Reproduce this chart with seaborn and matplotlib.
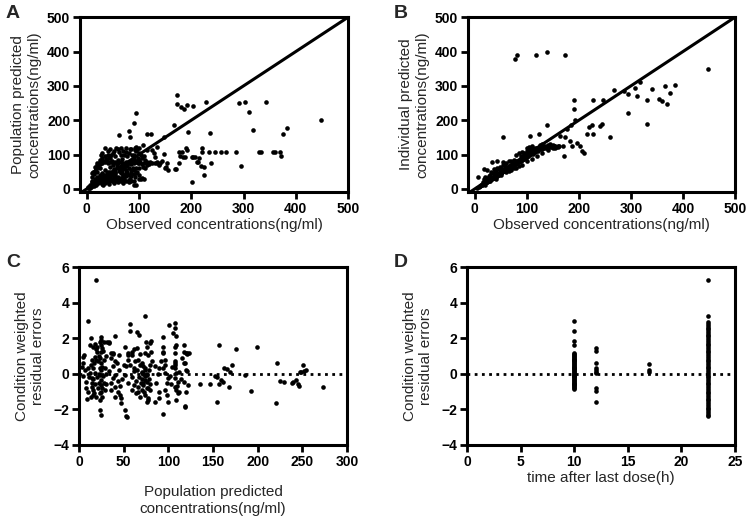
import numpy as np
import pandas as pd
import matplotlib
matplotlib.use("Agg")
import matplotlib.pyplot as plt
import seaborn as sns

# ---- Panel A: observed vs population predicted (ng/ml) ----
obs_a = [172, 172, 180, 186, 192, 203, 228, 292, 303, 311, 342, 319, 383, 375, 449, 235, 193, 295,
         221, 234, 246, 257, 267, 285, 329, 333, 356, 360, 369, 372,
         202, 225, 237, 212, 208, 218, 202, 185, 177, 170, 183, 189, 221, 176, 191, 179, 188, 204, 211, 214, 224,
         167, 95, 90, 61, 80, 83, 116, 122,
         95, 108, 92, 124, 128, 115, 131, 105, 112, 121, 99, 112, 105, 96, 90, 103,
         169, 156, 151, 138, 144, 134, 147, 154, 150, 141, 135, 147, 135,
         20, 25, 30, 35, 40, 45, 50, 55, 60, 65, 70, 75, 80, 85, 90, 95, 100, 110, 115, 125, 130,
         10, 15, 20, 25, 30, 35, 40, 45, 50, 55, 60, 65, 70, 75, 80, 85, 90,
         2, 4, 6, 8, 10, 12, 14, 16, 18, 20, 22, 25, 28, 30, 33, 36, 40, 43, 46, 50, 55, 60, 65, 70, 80, 90,
         20, 15, 25, 30, 35, 40, 30, 25, 45, 50, 35, 40, 55, 60, 65, 70, 75, 80, 85, 90, 95, 100, 60, 45,
         50, 55, 65, 70, 75, 80, 85, 90, 100, 20, 25, 15, 10, 35, 40, 45, 50, 30, 20, 15, 10, 12, 28, 38,
         48, 58, 68, 78, 88, 98, 62, 72, 82, 92, 42, 32, 52, 16, 110, 95,
         3, 5, 7, 9, 11, 13, 15, 17, 19, 21, 24, 26, 29, 31, 34, 37, 39, 42, 45, 48, 52, 55, 58, 62, 66, 68,
         72, 75, 78, 85, 95, 100,
         30, 35, 40, 45, 50, 55, 60, 65, 70, 75, 80, 85, 90, 95, 100, 40, 50, 60, 70, 80, 35, 45, 55, 65, 75,
         85, 95, 100, 58, 68, 78, 88,
         10, 14, 18, 22, 26, 32, 36, 42, 46, 52, 56, 62, 66, 72, 76, 82, 86, 92, 96, 100, 104, 102, 106, 108,
         115, 120, 110]
pred_a = [274, 246, 239, 232, 244, 242, 253, 249, 254, 225, 252, 172, 176, 159, 200, 163, 167, 67,
          108, 108, 108, 108, 108, 108, 108, 108, 108, 108, 108, 96,
          21, 40, 74, 79, 94, 68, 94, 94, 74, 58, 108, 118, 118, 108, 113, 96, 94, 94, 79, 89, 65,
          186, 220, 192, 157, 169, 150, 160, 159,
          123, 128, 113, 113, 104, 113, 94, 89, 84, 79, 75, 60, 31, 50, 10, 29,
          57, 55, 63, 70, 82, 79, 103, 74, 60, 74, 74, 152, 123,
          76, 78, 75, 77, 76, 78, 75, 77, 76, 78, 75, 77, 76, 78, 75, 77, 76, 75, 77, 76, 75,
          24, 22, 25, 23, 24, 22, 25, 23, 24, 22, 25, 23, 24, 22, 25, 23, 24,
          2, 5, 4, 9, 8, 13, 11, 17, 15, 22, 19, 28, 24, 33, 30, 38, 36, 45, 42, 52, 50, 62, 60, 70, 78, 88,
          50, 52, 60, 45, 95, 100, 90, 85, 115, 105, 120, 110, 95, 115, 100, 110, 120, 105, 115, 100, 110, 105, 85, 65,
          40, 35, 45, 40, 55, 60, 45, 55, 60, 35, 40, 30, 20, 55, 50, 90, 70, 105, 70, 65, 45, 50, 100, 85,
          82, 72, 88, 95, 82, 90, 30, 28, 30, 35, 15, 12, 18, 52, 30, 10,
          6, 3, 10, 6, 15, 9, 19, 12, 25, 16, 30, 20, 35, 26, 40, 30, 45, 35, 50, 40, 57, 45, 65, 52, 68, 55,
          62, 66, 70, 72, 80, 85,
          15, 18, 20, 28, 30, 28, 35, 32, 35, 38, 40, 38, 42, 45, 40, 28, 22, 20, 18, 20, 28, 35, 40, 50, 45,
          55, 60, 30, 25, 45, 50, 62,
          35, 42, 58, 65, 72, 82, 88, 92, 100, 110, 118, 108, 120, 98, 108, 115, 98, 118, 115, 118, 100, 78, 72, 65,
          70, 72, 95]

# ---- Panel B: observed vs individual predicted (ng/ml) ----
obs_b = [78, 82, 118, 139, 174, 449,
         369, 365, 376, 385, 340, 331, 353, 360, 318, 308, 311, 295, 295, 331, 286, 268, 228, 246, 259,
         190, 190, 193, 184, 177, 174, 169, 171, 139, 124, 106, 55,
         203, 206, 210, 197, 215, 228, 241, 244, 225, 220, 183, 187, 164, 154, 161,
         5, 8, 10, 12, 14, 15, 17, 18, 20, 22, 22, 24, 25, 27, 28, 30, 30, 32, 33, 35, 36, 38, 40, 40, 42,
         44, 45, 47, 48, 50, 50, 52, 54, 55, 57, 58, 60, 60, 62, 64, 65, 67, 68, 70, 70, 72, 74, 75, 77, 78,
         80, 80, 82, 84, 85, 87, 88, 90, 90, 92, 94, 95, 97, 98, 100, 102, 105, 108, 110, 112, 115, 118, 120,
         122, 125, 128, 130, 133, 135, 138, 140, 143, 145, 148, 150, 155, 160,
         15, 18, 20, 25, 22, 30, 28, 35, 32, 38, 40, 42, 45, 48, 50, 55, 58, 60, 65, 70, 75, 80, 85, 90, 95,
         100, 105, 110, 115, 120, 100, 105, 110, 125, 130, 95, 88,
         20, 30, 40, 50, 60, 70, 80, 90, 100, 110, 120, 130, 140, 150, 160, 65, 75, 85,
         17, 24, 7, 37, 33, 42, 65, 54,
         11, 13, 16, 19, 21, 23, 26, 29, 31, 34, 37, 39, 41, 43, 46, 49, 51, 53, 56, 59, 61, 63, 66, 69, 71,
         73, 76, 79, 81, 83, 86, 89, 91, 93, 96, 99, 101, 104, 106, 109, 111, 113, 116, 119, 121, 124, 127,
         131, 134, 137, 142, 147, 152, 157]
ipred_b = [377, 389, 389, 398, 389, 350,
           246, 301, 280, 304, 290, 258, 261, 256, 311, 295, 270, 275, 222, 188, 285, 288, 259, 259, 152,
           259, 232, 201, 186, 174, 150, 126, 95, 185, 159, 155, 152,
           126, 111, 104, 135, 159, 159, 184, 188, 185, 179, 140, 126, 155, 126, 126,
           4, 6, 9, 10, 12, 14, 15, 17, 18, 19, 22, 21, 24, 24, 27, 26, 30, 29, 33, 31, 35, 34, 37, 40, 38,
           42, 40, 44, 46, 45, 50, 48, 51, 55, 52, 56, 55, 60, 58, 62, 60, 64, 62, 66, 70, 68, 70, 73, 72, 76,
           75, 80, 77, 80, 78, 83, 85, 84, 90, 87, 90, 88, 93, 95, 94, 97, 100, 102, 105, 103, 108, 110, 112,
           115, 118, 120, 117, 122, 125, 120, 128, 125, 130, 124, 128, 120, 125,
           20, 30, 35, 32, 28, 40, 38, 45, 50, 50, 55, 60, 58, 65, 62, 70, 68, 75, 80, 82, 85, 100, 105, 108, 105,
           110, 115, 118, 120, 118, 120, 122, 125, 128, 130, 100, 95,
           12, 22, 30, 40, 48, 55, 62, 70, 80, 88, 95, 105, 112, 118, 122, 52, 60, 68,
           58, 56, 34, 58, 77, 82, 68, 77,
           8, 12, 13, 16, 20, 20, 23, 25, 28, 30, 33, 36, 39, 38, 41, 44, 47, 50, 51, 53, 57, 59, 61, 63, 65,
           69, 70, 73, 76, 79, 80, 82, 86, 88, 90, 92, 96, 98, 101, 104, 107, 106, 110, 113, 109, 116, 115,
           119, 118, 123, 121, 122, 126, 123]

# ---- Panel C: population predicted vs CWRES ----
pred_c = [157, 176, 199, 222, 251, 249, 252, 254, 247, 171, 162, 166, 169, 152, 155, 159, 161, 157, 168, 147,
          186, 192, 154, 220, 230, 238, 240, 243, 245, 246, 273, 135, 121, 120, 123, 119, 112, 225,
          19, 10, 74, 57, 57, 65, 67, 101, 108, 108, 105, 40, 13, 25, 34, 28, 75, 81, 94, 94, 94, 109, 108,
          61, 65, 51, 12, 16, 6, 36, 38, 45, 55, 59, 68, 74, 77, 81, 92, 96, 108, 108, 118, 121, 117,
          25, 24, 25, 26, 25, 24, 25, 26, 25, 24, 25, 25, 26, 25, 23, 24, 25,
          18, 19, 20, 18, 17, 16, 18, 16, 18, 16, 19, 17,
          5, 4, 10, 12, 14, 8, 14, 10, 16, 9, 13,
          31, 34, 38, 36, 40, 38, 34, 40, 38, 36, 40, 36, 44, 40,
          47, 51, 54, 46, 47,
          55, 59, 55, 57, 53, 61, 62, 51, 59, 55, 62, 66, 59, 64,
          66, 68, 72, 74, 70, 76, 74, 72, 76, 79, 74, 77, 76, 71, 74, 76, 70, 72,
          79, 76, 82, 85, 89, 90, 85, 77,
          94, 96, 94, 96, 100, 98, 96, 98, 100,
          109, 107, 108, 107, 109, 107, 111, 107, 109, 111, 109,
          118, 121, 119, 120, 118, 122, 120, 119, 94, 53,
          20, 22, 21, 23, 22, 20, 22, 21, 23, 27, 28, 29, 27, 28, 29, 30, 30, 30, 26, 19, 15, 13, 15, 11, 7, 5, 8, 3,
          63, 65, 67, 69, 71, 64, 66, 70, 72, 74, 76, 78, 80, 78, 68, 73, 77, 79,
          45, 48, 43, 46, 50, 44, 88, 86, 90, 102, 104, 103, 112, 114, 110, 115]
cwres_c = [1.59, 1.40, 1.53, 0.59, 0.50, 0.12, 0.16, 0.20, 0.08, 0.50, 0.31, 0.25, 0.12, -0.12, -0.20, -0.35, -0.44, -0.59, -0.72, -0.59,
           -0.05, -0.96, -1.56, -1.62, -0.46, -0.53, -0.46, -0.35, -0.59, -0.66, -0.76, -0.58, 0.13, 1.16, 1.16, -1.79, -1.05, -0.43,
           5.25, 2.94, 3.26, 2.81, 2.38, 2.32, 2.19, 2.75, 2.85, 2.57, 2.28, 2.10, 2.00, 2.04, 1.78, 1.78, 1.81, 1.85, 2.04, 1.53, 1.25, 1.63, 1.48,
           1.40, 1.44, 1.53, 1.63, 1.53, 1.06, 1.16, 1.10, 1.06, 1.06, 1.25, 1.10, 1.16, 1.03, 1.22, 0.69, 0.50, 0.69, 0.50, 1.20, 1.12, 0.60,
           1.90, 1.80, 1.60, 1.45, 1.20, 0.90, 0.60, 0.40, 0.20, -0.05, -0.35, -0.62, -0.80, -1.00, -1.47, -2.03, -2.31,
           1.70, 1.40, 1.20, 0.95, 0.60, 0.30, 0.05, -0.30, -0.60, -0.90, 0.80, -1.10,
           0.97, 0.60, 0.31, 0.03, -0.25, -0.44, -0.72, -1.00, -1.19, -1.43, -1.28,
           1.81, 1.72, 1.16, 0.88, 0.69, 0.41, 0.13, -0.06, -0.25, -0.53, -0.72, -0.90, -1.00, -1.28,
           -1.66, -2.03, -2.41, -1.19, -1.37,
           1.16, 1.06, 0.78, 0.50, 0.41, 0.31, 0.13, -0.06, -0.16, -0.53, -0.62, -0.72, -0.90, -1.09,
           0.78, 0.50, 0.41, 0.22, 0.03, -0.06, -0.34, -0.62, -0.81, -0.90, -1.19, -1.37, -1.56, 0.10, -0.15, -0.45, -0.30, -0.50,
           1.72, 1.53, 0.69, 0.41, -1.00, -1.37, -1.56, -1.47,
           1.16, 0.78, 0.31, 0.03, -0.25, -0.53, -0.90, -1.19, -1.56,
           2.10, 1.16, 0.60, 0.31, 0.03, -0.25, -0.44, -0.72, -0.90, -1.09, -1.47,
           1.63, 1.16, 0.60, 0.22, -0.44, -0.62, -1.00, -1.84, -2.26, -2.40,
           1.5, 1.0, 0.7, 0.3, 0.0, -0.2, -0.5, -0.8, -1.1, 1.3, 0.8, 0.3, -0.1, -0.5, -0.9, 1.0, 0.0, -0.6, -1.3, -1.3, 0.8, 0.5, -0.5, -0.2, 0.2, -0.1, -0.8, 0.4,
           0.7, 0.2, -0.2, -0.5, -0.9, -0.4, -1.0, 0.6, 0.0, 0.3, 0.0, -0.3, -0.6, 0.2, -1.3, -1.0, -0.8, 0.5,
           0.2, -0.3, 0.6, -0.7, 0.5, -0.4, 0.0, -0.5, 0.3, -0.1, 0.4, -0.6, 0.1, -0.3, -0.7, 0.9]

# ---- Panel D: time after last dose vs CWRES ----
time_d = [10] * 45 + [12] * 10 + [17] * 3 + [22.5] * 56
cwres_d = [2.94, 2.38, 1.85, 1.63, 1.15, 1.10, 1.05, 1.00, 0.95, 0.90, 0.85, 0.80, 0.75, 0.70, 0.65,
           0.60, 0.55, 0.50, 0.45, 0.40, 0.35, 0.30, 0.25, 0.20, 0.15, 0.10, 0.05, 0.00, -0.05, -0.10,
           -0.15, -0.20, -0.25, -0.30, -0.35, -0.40, -0.45, -0.50, -0.55, -0.60, -0.65, -0.70, -0.75, -0.80, -0.85,
           1.44, 1.30, 0.60, 0.30, 0.20, 0.10, 0.03, -0.80, -0.95, -1.60,
           0.55, 0.22, 0.10,
           5.25, 3.26, 2.90, 2.80, 2.70, 2.60, 2.50, 2.40, 2.30, 2.20, 2.10, 2.00, 1.90, 1.80, 1.70, 1.60,
           1.50, 1.40, 1.30, 1.20, 1.10, 1.00, 0.90, 0.80, 0.70, 0.60, 0.50, 0.40, 0.30, 0.20, 0.10, 0.00,
           -0.10, -0.20, -0.30, -0.40, -0.50, -0.60, -0.70, -0.80, -0.90, -1.00, -1.10, -1.20, -1.30, -1.40,
           -1.50, -1.60, -1.70, -1.80, -1.90, -2.00, -2.10, -2.20, -2.30, -2.40]

sns.set_style("ticks")
plt.rcParams['font.family'] = ['Liberation Sans', 'DejaVu Sans']

fig = plt.figure(figsize=(7.47, 5.21), dpi=100)
ax_a = fig.add_axes([0.107, 0.6315, 0.359, 0.3355])
ax_b = fig.add_axes([0.6265, 0.6315, 0.3575, 0.3355])
ax_c = fig.add_axes([0.1058, 0.146, 0.3587, 0.3415])
ax_d = fig.add_axes([0.625, 0.146, 0.359, 0.3415])

dot = dict(color='black', s=11, linewidth=0)

sns.scatterplot(x=obs_a, y=pred_a, ax=ax_a, **dot)
sns.scatterplot(x=obs_b, y=ipred_b, ax=ax_b, **dot)
sns.scatterplot(x=pred_c, y=cwres_c, ax=ax_c, **dot)
sns.scatterplot(x=time_d, y=cwres_d, ax=ax_d, **dot)

for ax in [ax_a, ax_b]:
    ax.axline((0, 0), slope=1, color='black', lw=2.2, zorder=1)
    ax.set_xlim(-13, 500)
    ax.set_ylim(-9, 500)
    ax.set_xticks([0, 100, 200, 300, 400, 500])
    ax.set_yticks([0, 100, 200, 300, 400, 500])
    ax.set_xlabel("Observed concentrations(ng/ml)", fontsize=11, labelpad=2)

ax_a.set_ylabel("Population predicted\nconcentrations(ng/ml)", fontsize=11, labelpad=4)
ax_b.set_ylabel("Individual predicted\nconcentrations(ng/ml)", fontsize=11, labelpad=4)

for ax in [ax_c, ax_d]:
    ax.axhline(0, color='black', lw=2, ls=(0, (1, 1.6)), zorder=1)
    ax.set_ylim(-4, 6)
    ax.set_yticks([-4, -2, 0, 2, 4, 6])
    ax.set_ylabel("Condition weighted\nresidual errors", fontsize=11, labelpad=6)

ax_c.set_xlim(0, 300)
ax_c.set_xticks([0, 50, 100, 150, 200, 250, 300])
ax_c.set_xlabel("Population predicted\nconcentrations(ng/ml)", fontsize=11, labelpad=12)
ax_d.set_xlim(0, 25)
ax_d.set_xticks([0, 5, 10, 15, 20, 25])
ax_d.set_xlabel("time after last dose(h)", fontsize=11, labelpad=2)

for ax in [ax_a, ax_b, ax_c, ax_d]:
    for side in ['left', 'right', 'top', 'bottom']:
        ax.spines[side].set_visible(True)
        ax.spines[side].set_linewidth(2.2)
        ax.spines[side].set_color('black')
    ax.tick_params(direction='out', length=5, width=2, labelsize=10, pad=2, colors='black')
    for lab in ax.get_xticklabels() + ax.get_yticklabels():
        lab.set_fontweight('bold')

for letter, (x, y) in zip("ABCD", [(0.008, 0.975), (0.527, 0.975), (0.008, 0.497), (0.527, 0.497)]):
    fig.text(x, y, letter, fontsize=14, fontweight='bold', va='center')

fig.savefig("out.png", dpi=100)
